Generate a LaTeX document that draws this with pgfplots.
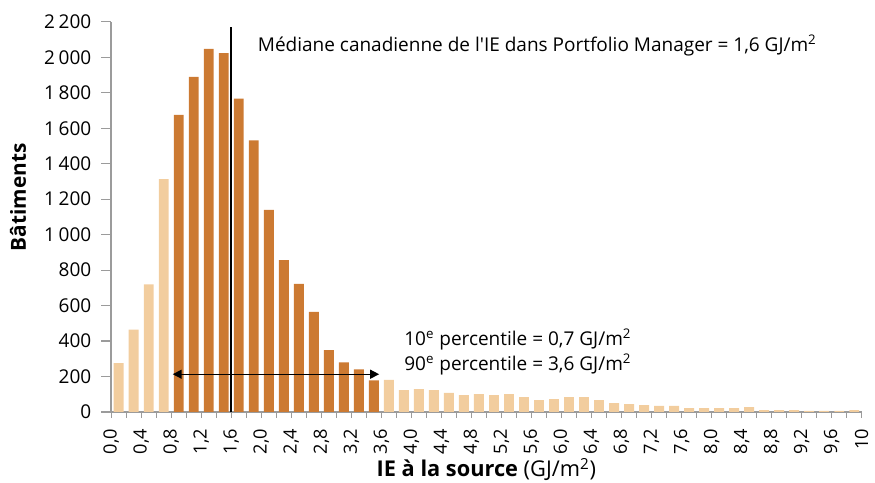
\documentclass[border=0pt]{standalone}
\usepackage{fontspec}
\setmainfont{Open Sans}
\usepackage{pgfplots}
\pgfplotsset{compat=1.18}
\usetikzlibrary{calc,arrows.meta}
\definecolor{dark}{RGB}{204,122,50}
\definecolor{light}{RGB}{242,205,158}
\definecolor{axgray}{RGB}{155,155,155}
\begin{document}
\begin{tikzpicture}
\begin{axis}[
  scale only axis, width=378bp, height=196.5bp,
  xmin=0, xmax=10, ymin=0, ymax=2200,
  axis x line*=bottom, axis y line*=left,
  axis line style={axgray, line width=0.75bp},
  tick align=outside,
  major tick length=5bp,
  tick style={axgray, line width=0.6bp},
  xtick style={/pgfplots/major tick length=2.8bp},
  ytick={0,200,...,2200},
  xtick={0,0.2,0.4,0.6,0.8,1,1.2,1.4,1.6,1.8,2,2.2,2.4,2.6,2.8,3,3.2,3.4,3.6,3.8,4,4.2,4.4,4.6,4.8,5,5.2,5.4,5.6,5.8,6,6.2,6.4,6.6,6.8,7,7.2,7.4,7.6,7.8,8,8.2,8.4,8.6,8.8,9,9.2,9.4,9.6,9.8,10},
  xticklabels={{0,0},{},{0,4},{},{0,8},{},{1,2},{},{1,6},{},{2,0},{},{2,4},{},{2,8},{},{3,2},{},{3,6},{},{4,0},{},{4,4},{},{4,8},{},{5,2},{},{5,6},{},{6,0},{},{6,4},{},{6,8},{},{7,2},{},{7,6},{},{8,0},{},{8,4},{},{8,8},{},{9,2},{},{9,6},{},{10}},
  xticklabel style={rotate=90, anchor=east, font=\fontsize{9.2}{10}\selectfont},
  yticklabel style={font=\fontsize{9.6}{10}\selectfont, xshift=-1.5bp},
  /pgf/number format/.cd, 1000 sep={\hspace{0.2em}}, assume math mode=true, /pgfplots/.cd,
  ylabel={\textbf{Bâtiments}},
  ylabel style={at={(axis description cs:-0.124,0.55)}, anchor=center, font=\fontsize{10.5}{11}\selectfont},
  xlabel={\textbf{IE à la source} (GJ/m\textsuperscript{2})},
  xlabel style={at={(axis description cs:0.5,-0.145)}, anchor=north, inner sep=0pt, yshift=5.5bp, font=\fontsize{11}{12}\selectfont},
  clip=false,
]
\addplot[ybar, bar width=0.132, bar shift=0pt, fill=light, draw=none] coordinates {
(0.1,275) (0.3,465) (0.5,720) (0.7,1313)
(3.7,181) (3.9,123) (4.1,129) (4.3,123) (4.5,108) (4.7,95) (4.9,101) (5.1,95) (5.3,101)
(5.5,84) (5.7,67) (5.9,73) (6.1,84) (6.3,84) (6.5,67) (6.7,50) (6.9,45) (7.1,39) (7.3,34)
(7.5,34) (7.7,22) (7.9,22) (8.1,22) (8.3,22) (8.5,28) (8.7,11) (8.9,11) (9.1,11) (9.3,6)
(9.5,6) (9.7,6) (9.9,11)
};
\addplot[ybar, bar width=0.132, bar shift=0pt, fill=dark, draw=none] coordinates {
(0.9,1675) (1.1,1890) (1.3,2047) (1.5,2024) (1.7,1767) (1.9,1532) (2.1,1140)
(2.3,857) (2.5,722) (2.7,565) (2.9,349) (3.1,280) (3.3,241) (3.5,179)
};
\draw[black, line width=0.9bp] (axis cs:1.6,0) -- (axis cs:1.6,2170);
\draw[{Triangle[length=4.5bp,width=4.5bp]}-{Triangle[length=4.5bp,width=4.5bp]}, line width=0.7bp] (axis cs:0.82,213) -- (axis cs:3.57,213);
\node[anchor=west, inner sep=0, font=\fontsize{9.6}{11}\selectfont] at (axis cs:1.95,2068) {Médiane canadienne de l\textquotesingle IE dans Portfolio Manager = 1,6 GJ/m\textsuperscript{2}};
\node[anchor=west, inner sep=0, align=left, font=\fontsize{9.6}{12.5}\selectfont] at (axis cs:3.9,339) {10\textsuperscript{e} percentile = 0,7 GJ/m\textsuperscript{2}\\90\textsuperscript{e} percentile = 3,6 GJ/m\textsuperscript{2}};
\end{axis}
\path ($(current axis.south west)+(-56bp,-35.5bp)$) rectangle ($(current axis.north east)+(3.5bp,11bp)$);
\end{tikzpicture}
\end{document}
